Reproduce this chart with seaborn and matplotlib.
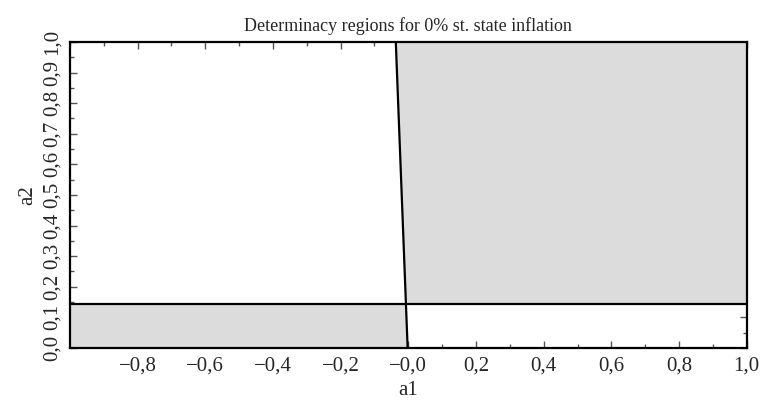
import numpy as np
import pandas as pd
import seaborn as sns
import matplotlib.pyplot as plt
from matplotlib.ticker import MultipleLocator

# boundaries
vert_a1 = [-0.037, -0.002]   # a1 at a2 = 1.0 and a2 = 0.0
vert_a2 = [1.0, 0.0]
horiz_a2 = 0.144
x_ticks = [-0.8, -0.6, -0.4, -0.2, 0.0, 0.2, 0.4, 0.6, 0.8, 1.0]
x_labels = ['\u22120,8', '\u22120,6', '\u22120,4', '\u22120,2', '\u22120,0',
            '0,2', '0,4', '0,6', '0,8', '1,0']
y_ticks = [0.0, 0.1, 0.2, 0.3, 0.4, 0.5, 0.6, 0.7, 0.8, 0.9, 1.0]
y_labels = ['0,0', '0,1', '0,2', '0,3', '0,4', '0,5', '0,6', '0,7', '0,8', '0,9', '1,0']

sns.set_style("white")
plt.rcParams['font.family'] = ['Liberation Serif', 'DejaVu Serif']

fig = plt.figure(figsize=(7.77, 4.04), dpi=100)
ax = fig.add_axes([0.090, 0.139, 0.871, 0.757])

# x of the sloped line at given a2
def line_x(y):
    return np.interp(y, vert_a2[::-1], vert_a1[::-1])

shade = '#dcdcdc'
yy = np.linspace(horiz_a2, 1.0, 50)
ax.fill_betweenx(yy, line_x(yy), 1.0, color=shade, lw=0)
yy = np.linspace(0.0, horiz_a2, 50)
ax.fill_betweenx(yy, -1.0, line_x(yy), color=shade, lw=0)

sns.lineplot(x=vert_a1, y=vert_a2, sort=False, color='black', lw=1.6, ax=ax)
sns.lineplot(x=[-1.0, 1.0], y=[horiz_a2, horiz_a2], color='black', lw=1.6, ax=ax)

ax.set_xlim(-1.0, 1.0)
ax.set_ylim(0.0, 1.0)
ax.set_xticks(x_ticks)
ax.set_xticklabels(x_labels, fontsize=15)
ax.set_yticks(y_ticks)
ax.set_yticklabels(y_labels, fontsize=15, rotation=90, va='center')
ax.xaxis.set_minor_locator(MultipleLocator(0.1))
ax.yaxis.set_minor_locator(MultipleLocator(0.05))
ax.tick_params(which='both', direction='in', color='#555555', width=1,
               top=True, right=True, bottom=True, left=True)
ax.tick_params(which='major', length=5, pad=6)
ax.tick_params(which='minor', length=3)
for s in ax.spines.values():
    s.set_color('black')
    s.set_linewidth(1.6)

ax.set_xlabel('a1', fontsize=15)
ax.set_ylabel('a2', fontsize=15)
ax.set_title('Determinacy regions for 0% st. state inflation', fontsize=13, pad=8)

fig.savefig('out.png', dpi=100)
